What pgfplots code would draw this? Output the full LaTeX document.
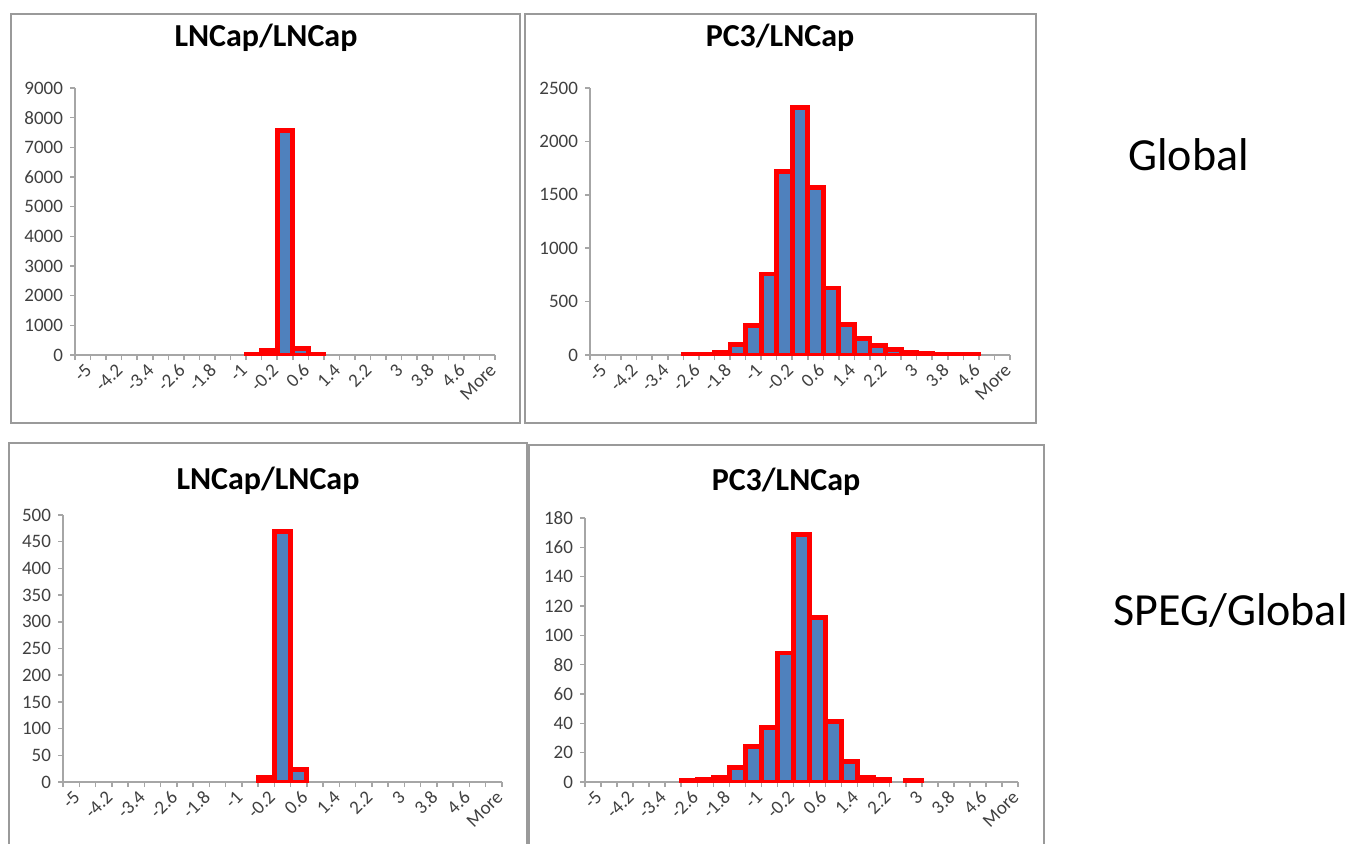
\documentclass[border=0pt]{standalone}
\usepackage{fontspec}
\setmainfont{Carlito}
\usepackage{pgfplots}
\pgfplotsset{compat=1.18}

\definecolor{barblue}{HTML}{4F81BD}
\definecolor{axgray}{HTML}{A6A6A6}
\definecolor{boxgray}{HTML}{9A9A9A}
\definecolor{lblgray}{HTML}{404040}

\pgfplotsset{
  hist/.style={
    scale only axis,
    anchor=south west,
    xmin=-0.5, xmax=26.5, ymin=0,
    axis x line*=bottom, axis y line*=left,
    axis line style={axgray, line width=0.75pt},
    every tick/.style={axgray, line width=0.75pt},
    tick align=outside,
    major tick length=2.5pt, minor tick length=2.5pt,
    xtick={0,2,...,26},
    xticklabels={-5,-4.2,-3.4,-2.6,-1.8,-1,-0.2,0.6,1.4,2.2,3,3.8,4.6,More},
    major x tick style={draw=none},
    minor xtick={-0.5,0.5,...,26.5},
    x tick label style={rotate=45, anchor=east, xshift=3pt, yshift=-4.5pt,
      font=\fontsize{9.5}{10}\selectfont, text=lblgray},
    y tick label style={font=\fontsize{9.5}{10}\selectfont, text=lblgray},
    /pgf/number format/assume math mode=true,
    /pgf/number format/1000 sep={},
    scaled y ticks=false,
    ybar, bar width=1,
  },
  hbar/.style={fill=barblue, draw=red, line width=2.4pt},
}

\begin{document}
\begin{tikzpicture}
\begin{scope}[x=0.5pt,y=-0.5pt]
\path[use as bounding box] (0,0) rectangle (1348,843);
% chart frames
\draw[boxgray, line width=1pt] (11,14) rectangle (520,423);
\draw[boxgray, line width=1pt] (525,14) rectangle (1036,423);
\draw[boxgray, line width=1pt] (9,443) rectangle (527,860);
\draw[boxgray, line width=1pt] (529,445) rectangle (1044,860);
% titles
\node[anchor=base, font=\bfseries\fontsize{16}{19}\selectfont] at (266,46) {LNCap/LNCap};
\node[anchor=base, font=\bfseries\fontsize{16}{19}\selectfont] at (780,46) {PC3/LNCap};
\node[anchor=base, font=\bfseries\fontsize{16}{19}\selectfont] at (268,489) {LNCap/LNCap};
\node[anchor=base, font=\bfseries\fontsize{16}{19}\selectfont] at (786,490) {PC3/LNCap};
% row labels
\node[anchor=base west, inner sep=0pt, font=\fontsize{23}{27}\selectfont] at (1128,170) {Global};
\node[anchor=base west, inner sep=0pt, font=\fontsize{23}{27}\selectfont] at (1113,625) {SPEG/Global};
\end{scope}

% Global, LNCap/LNCap
\begin{axis}[hist, at={(37.5pt,-177.5pt)}, width=210pt, height=133.5pt,
  ymax=9000, ytick={0,1000,...,9000}]
\addplot[hbar] coordinates {(11,10) (12,165) (13,7580) (14,220) (15,10)};
\end{axis}

% Global, PC3/LNCap
\begin{axis}[hist, at={(295pt,-177.5pt)}, width=210pt, height=133.5pt,
  ymax=2500, ytick={0,500,...,2500}]
\addplot[hbar] coordinates {(6,5) (7,8) (8,25) (9,100) (10,275) (11,759) (12,1715)
  (13,2320) (14,1566) (15,628) (16,284) (17,156) (18,92) (19,48) (20,28)
  (21,15) (22,9) (23,5) (24,3)};
\end{axis}

% SPEG/Global, LNCap/LNCap
\begin{axis}[hist, at={(31.5pt,-391pt)}, width=219.5pt, height=133.5pt,
  ymax=500, ytick={0,50,...,500}]
\addplot[hbar] coordinates {(12,9) (13,469) (14,24)};
\end{axis}

% SPEG/Global, PC3/LNCap
\begin{axis}[hist, at={(292.5pt,-391pt)}, width=216.5pt, height=132pt,
  ymax=180, ytick={0,20,...,180}]
\addplot[hbar] coordinates {(6,1) (7,2) (8,3) (9,10) (10,24) (11,37) (12,88)
  (13,169) (14,112) (15,41) (16,14) (17,3) (18,2) (20,1)};
\end{axis}
\end{tikzpicture}
\end{document}
